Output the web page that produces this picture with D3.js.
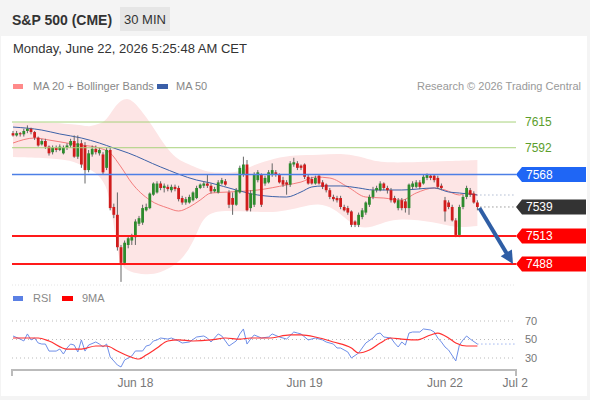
<!DOCTYPE html>
<html><head><meta charset="utf-8">
<script src="https://cdn.jsdelivr.net/npm/d3@7"></script>
<style>body{margin:0;background:#f3f3f3;} svg{display:block;font-family:"Liberation Sans",Arial,sans-serif;}</style>
</head><body><svg id="c" width="590" height="400"></svg>
<script>
// ---- DATA ----
const openP=[7605,7603,7605,7604,7607,7609,7606,7601,7595,7598,
7593,7588,7592,7590,7587,7592,7594,7598,7584,7596,
7594,7572,7586,7591,7587,7586,7574,7590,7539,7532,
7503,7489,7505,7509,7512,7524,7525,7536,7538,7550,
7552,7560,7556,7557,7554,7557,7556,7547,7543,7543,
7545,7547,7556,7558,7560,7558,7553,7552,7560,7562,
7552,7547,7541,7552,7568,7577,7538,7541,7563,7568,
7560,7561,7568,7570,7568,7563,7561,7559,7577,7578,
7576,7577,7566,7564,7560,7567,7561,7559,7554,7548,
7547,7547,7539,7538,7535,7526,7523,7530,7534,7541,
7548,7554,7554,7560,7556,7554,7547,7538,7545,7544,
7538,7557,7557,7561,7560,7565,7567,7567,7565,7558,
7545,7543,7539,7527,7514,7539,7548,7554,7551,7543];
const highP=[7607,7607,7606,7609,7612,7610,7607,7602,7600,7600,
7594,7594,7594,7595,7594,7596,7600,7603,7603,7599,
7597,7590,7594,7594,7592,7588,7592,7592,7542,7552,
7505,7509,7513,7515,7528,7531,7541,7542,7552,7561,
7562,7562,7560,7559,7559,7559,7558,7549,7548,7550,
7553,7558,7560,7562,7568,7560,7557,7563,7565,7564,
7554,7552,7556,7576,7584,7581,7554,7570,7572,7569,
7567,7572,7578,7572,7569,7566,7563,7580,7583,7580,
7577,7578,7568,7566,7567,7568,7563,7560,7556,7550,
7549,7549,7541,7540,7536,7527,7534,7538,7544,7550,
7557,7558,7562,7561,7558,7556,7549,7547,7547,7546,
7560,7562,7563,7563,7568,7569,7568,7568,7567,7560,
7548,7545,7541,7529,7541,7550,7558,7556,7553,7545];
const lowP=[7602,7602,7602,7602,7605,7604,7599,7593,7594,7591,
7585,7586,7588,7589,7586,7590,7592,7583,7582,7574,
7560,7570,7584,7586,7585,7568,7572,7536,7529,7500,
7472,7487,7502,7505,7505,7522,7523,7535,7537,7549,
7551,7554,7552,7553,7552,7553,7544,7541,7541,7542,
7544,7546,7555,7556,7556,7551,7552,7551,7559,7558,
7538,7532,7540,7551,7566,7535,7535,7539,7561,7539,
7558,7560,7566,7566,7560,7557,7550,7557,7575,7572,
7572,7564,7559,7559,7559,7559,7555,7552,7546,7544,
7543,7537,7535,7532,7521,7521,7521,7528,7532,7539,
7546,7552,7553,7554,7551,7543,7542,7536,7536,7534,
7532,7555,7556,7555,7559,7563,7563,7561,7555,7554,
7526,7537,7526,7512,7512,7537,7546,7548,7542,7536];
const closeP=[7603,7605,7604,7607,7609,7606,7601,7594,7598,7593,
7587,7592,7590,7593,7592,7594,7598,7584,7596,7577,
7572,7587,7591,7588,7590,7570,7590,7538,7532,7503,
7489,7507,7511,7512,7526,7529,7538,7539,7551,7560,
7560,7556,7558,7555,7557,7555,7546,7543,7546,7548,
7552,7556,7559,7560,7558,7553,7555,7561,7563,7559,
7541,7541,7554,7574,7577,7536,7551,7568,7570,7541,
7565,7570,7572,7568,7561,7559,7559,7578,7579,7574,
7574,7566,7560,7560,7565,7560,7557,7554,7548,7546,
7545,7539,7536,7534,7523,7523,7532,7536,7543,7548,
7554,7556,7560,7556,7554,7545,7543,7545,7538,7538,
7559,7560,7561,7557,7566,7568,7565,7563,7557,7556,
7535,7539,7527,7514,7539,7548,7556,7550,7543,7539];

const ma50Idx=[0,8,13,19,24,28,32,41,51,55,62,68,76,80,83,86,91,96,100,108,117,121,124,129];
const ma50Val=[7610.5,7607.8,7604.3,7600.7,7596.2,7591.7,7587.3,7574.8,7563.1,7560.4,7554.2,7549.7,7547.9,7552.4,7556.9,7557.8,7557.8,7556,7554.2,7554.2,7556,7552.4,7551.5,7549.7];
const ma20Idx=[0,6,10,15,19,24,27,30,33,38,43,46,49,52,55,60,68,76,80,84,88,93,98,103,108,112,117,120,124,126,129];
const ma20Val=[7596.2,7600.7,7598.9,7596.2,7594.4,7591.7,7587.3,7574.8,7560.4,7545.2,7538.1,7535.4,7539,7545.2,7551.5,7552.4,7554.2,7558.7,7561.3,7565.8,7564.9,7556.9,7547.9,7547,7545.2,7551.5,7556,7554.2,7549.7,7551.5,7549.7];
const bbUpIdx=[0,10,19,21,24,26,28,30,32,34,37,40,43,46,48,51,54,58,63,66,73,78,85,92,98,102,113,121,129];
const bbUpVal=[7614,7615,7612.3,7610.5,7613.2,7616.8,7627.5,7634.7,7636.5,7632,7619.5,7605.2,7590,7581,7578.3,7573.9,7570.3,7569.4,7570.3,7575.6,7582.8,7585.5,7585.5,7587.3,7582.8,7578.3,7579.2,7580.1,7581];
const bbLoIdx=[0,10,16,20,23,26,27,28,29,30,32,37,41,45,48,51,53,58,63,69,74,80,85,89,93,96,100,103,108,117,123,129];
const bbLoVal=[7583.7,7582.8,7581,7574.8,7570.3,7558.7,7541,7523,7500,7487,7481,7478,7480,7487,7496,7514,7532,7536,7535,7534.5,7534.5,7539,7542.6,7538,7527,7520,7521,7525.6,7529,7525.6,7520,7522];

const rsiIdx=[0,2,3,4,5,6,7,8,9,10,12,13,14,15,16,17,18,19,20,21,23,24,25,26,27,28,29,30,31,32,33,34,36,37,38,39,40,41,43,44,46,47,49,51,53,54,55,57,58,60,62,63,64,65,66,67,69,71,72,74,76,78,79,80,82,84,86,87,89,90,91,93,94,96,97,98,100,101,102,103,105,106,107,108,109,110,111,113,114,116,117,118,119,120,121,123,124,125,126,127,129];
const rsiVal=[53.8,50.5,48.4,56,49.5,51.6,46.2,45.1,45.1,37.5,37.5,39.7,34.3,40.8,45.1,44,36.5,49.5,37.5,44,47.3,45.1,41.9,45.1,31.1,26.8,22.4,20.3,27.8,30,32.2,37.6,37.6,43,44,48.4,49.5,51.6,50.5,51.6,48.4,46.2,47.3,52.7,53.8,51.6,47.3,56,53.8,43,48.4,56,61.4,45.1,50.5,54.9,51.6,52.7,56,52.7,50.5,58.1,57,56,49.5,51.6,49.5,47.3,45.1,40.8,40.8,36.5,30,35.4,40.8,46.2,51.6,56,57,52.7,51.6,46.2,41.9,47.3,44,57,58.1,58.1,61.4,60.3,58.1,51.6,47.3,41.9,38.6,26.8,44,49.5,53.8,50.5,45.1];
const ma9Idx=[0,7,10,15,19,23,26,29,32,35,37,40,43,46,50,55,59,63,66,71,77,80,84,89,94,96,99,102,105,108,112,116,118,121,123,126,129];
const ma9Val=[51.6,51.6,48.4,39.7,39.7,43,43,37.6,32.2,28.9,33.2,40.8,48.4,49.5,48.4,49.5,51.6,50.5,51.6,51.6,54.9,54.9,52.7,47.3,40.8,35.4,38.6,46.2,51.6,50.5,49.5,54.9,57,51.6,46.2,43,43];

const resistances=[7615,7592];
const pivot=[7568];
const supports=[7513,7488];
const rsiLevels=[70,50,30];
const tickIdx=[34,81,120,139.5];
const tickLabels=["Jun 18","Jun 19","Jun 22","Jul 2"];

// ---- DRAW ----
const svg=d3.select("#c");
svg.append("rect").attr("width",590).attr("height",400).attr("fill","#f4f4f4");
svg.append("rect").attr("x",1).attr("y",36).attr("width",586).attr("height",360).attr("fill","#fff");

// header
svg.append("text").attr("x",12).attr("y",25).attr("font-size",14).attr("font-weight","bold").attr("fill","#333").text("S&P 500 (CME)");
svg.append("rect").attr("x",120).attr("y",7).attr("width",50).attr("height",24).attr("fill","#e6e6e6");
svg.append("text").attr("x",145).attr("y",24).attr("text-anchor","middle").attr("font-size",13).attr("fill","#333").text("30 MIN");
svg.append("text").attr("x",13).attr("y",53).attr("font-size",13).attr("fill","#333").text("Monday, June 22, 2026 5:25:48 AM CET");

// legend
svg.append("rect").attr("x",13).attr("y",84).attr("width",10).attr("height",5).attr("fill","#ff8a8a");
svg.append("text").attr("x",33).attr("y",90).attr("font-size",11).attr("fill","#888").text("MA 20 + Bollinger Bands");
svg.append("rect").attr("x",157).attr("y",84).attr("width",11).attr("height",5).attr("fill","#3a5fa8");
svg.append("text").attr("x",176).attr("y",90).attr("font-size",11).attr("fill","#888").text("MA 50");
svg.append("text").attr("x",581).attr("y",90).attr("text-anchor","end").attr("font-size",11).attr("fill","#999").text("Research © 2026 Trading Central");

const x=d3.scaleLinear().domain([0,129]).range([13,477.4]);
const y=d3.scaleLinear().domain([7469.2,7634.7]).range([285,100]);
const yr=d3.scaleLinear().domain([30,70]).range([358,321]);
const X0=12, X1=516;

// bollinger band
const up=bbUpIdx.map((d,i)=>[x(d),y(bbUpVal[i])]);
const lo=bbLoIdx.map((d,i)=>[x(d),y(bbLoVal[i])]).reverse();
const lb=d3.line().curve(d3.curveBasis);
svg.append("path").attr("d",lb(up)+"L"+lb(lo).slice(1)+"Z").attr("fill","#fde5e5");

// panel separator
svg.append("line").attr("x1",X0).attr("x2",X1).attr("y1",285).attr("y2",285).attr("stroke","#e4e4e4").attr("stroke-dasharray","1,2");

// MA lines
const lm=d3.line().curve(d3.curveMonotoneX);
svg.append("path").attr("d",lm(ma20Idx.map((d,i)=>[x(d),y(ma20Val[i])]))).attr("fill","none").attr("stroke","#f47c7c").attr("stroke-width",1);
svg.append("path").attr("d",lm(ma50Idx.map((d,i)=>[x(d),y(ma50Val[i])]))).attr("fill","none").attr("stroke","#3d62a8").attr("stroke-width",1);

// candles
const bars=d3.range(closeP.length);
const g=svg.append("g");
g.selectAll(".w").data(bars).join("line")
 .attr("x1",i=>x(i)).attr("x2",i=>x(i)).attr("y1",i=>y(highP[i])).attr("y2",i=>y(lowP[i]))
 .attr("stroke","#666").attr("stroke-width",1);
g.selectAll(".b").data(bars).join("rect")
 .attr("x",i=>x(i)-1.4).attr("width",2.8)
 .attr("y",i=>y(Math.max(openP[i],closeP[i])))
 .attr("height",i=>Math.max(1,Math.abs(y(openP[i])-y(closeP[i]))))
 .attr("fill",i=>closeP[i]>=openP[i]?"#2e8b2e":"#d01c1c");

// last price dotted lines
const last=closeP.length-1;
svg.append("line").attr("x1",x(last)+3).attr("x2",X1).attr("y1",y(closeP[last])).attr("y2",y(closeP[last])).attr("stroke","#666").attr("stroke-dasharray","1,3");
svg.append("line").attr("x1",x(last)+3).attr("x2",X1).attr("y1",y(ma50Val[ma50Val.length-1])).attr("y2",y(ma50Val[ma50Val.length-1])).attr("stroke","#8899bb").attr("stroke-dasharray","1,3");

// level lines
resistances.forEach(v=>{
  svg.append("line").attr("x1",X0).attr("x2",X1).attr("y1",y(v)).attr("y2",y(v)).attr("stroke","#a8d27c").attr("stroke-width",1);
  svg.append("text").attr("x",525).attr("y",y(v)).attr("dy","0.36em").attr("font-size",12).attr("fill","#5c9e2c").text(v);
});
function tag(v,fill){
  const cy=y(v);
  svg.append("path").attr("d",`M${X1},${cy}L${X1+6},${cy-7.5}L586,${cy-7.5}L586,${cy+7.5}L${X1+6},${cy+7.5}Z`).attr("fill",fill);
  svg.append("text").attr("x",526).attr("y",cy).attr("dy","0.36em").attr("font-size",12).attr("fill","#fff").text(v);
}
pivot.forEach(v=>{
  svg.append("line").attr("x1",X0).attr("x2",X1).attr("y1",y(v)).attr("y2",y(v)).attr("stroke","#4d7fe6").attr("stroke-width",1.5);
  tag(v,"#1f66f5");
});
supports.forEach(v=>{
  svg.append("line").attr("x1",X0).attr("x2",X1).attr("y1",y(v)).attr("y2",y(v)).attr("stroke","#ff1a1a").attr("stroke-width",2);
  tag(v,"#ff0000");
});
tag(closeP[last],"#333");

// arrow
{
  const sx=x(last)+2, sy=y(closeP[last])+1;
  const tx=513, ty=y(supports[1]);
  const dx=tx-sx, dy=ty-sy, L=Math.hypot(dx,dy), ux=dx/L, uy=dy/L;
  const bx=tx-ux*13, by=ty-uy*13, px=-uy*6.5, py=ux*6.5;
  svg.append("line").attr("x1",sx).attr("y1",sy).attr("x2",bx+ux*2).attr("y2",by+uy*2).attr("stroke","#2f5ea5").attr("stroke-width",4);
  svg.append("path").attr("d",`M${tx},${ty}L${bx+px},${by+py}L${bx-px},${by-py}Z`).attr("fill","#2f5ea5");
}

// RSI legend
svg.append("rect").attr("x",13).attr("y",296).attr("width",10).attr("height",5).attr("fill","#5b80e4");
svg.append("text").attr("x",33).attr("y",302).attr("font-size",11).attr("fill","#888").text("RSI");
svg.append("rect").attr("x",62).attr("y",296).attr("width",11).attr("height",5).attr("fill","#ff0000");
svg.append("text").attr("x",82).attr("y",302).attr("font-size",11).attr("fill","#888").text("9MA");

// RSI grid
rsiLevels.forEach(v=>{
  svg.append("line").attr("x1",X0).attr("x2",X1).attr("y1",yr(v)).attr("y2",yr(v)).attr("stroke","#bbb").attr("stroke-dasharray","1,3");
  svg.append("text").attr("x",525).attr("y",yr(v)).attr("dy","0.36em").attr("font-size",11).attr("fill","#777").text(v);
});
const ll=d3.line();
svg.append("path").attr("d",ll(rsiIdx.map((d,i)=>[x(d),yr(rsiVal[i])]))).attr("fill","none").attr("stroke","#6f8fe8").attr("stroke-width",1);
svg.append("path").attr("d",lm(ma9Idx.map((d,i)=>[x(d),yr(ma9Val[i])]))).attr("fill","none").attr("stroke","#ff3030").attr("stroke-width",1.2);
svg.append("line").attr("x1",x(last)).attr("x2",X1).attr("y1",yr(rsiVal[rsiVal.length-1])).attr("y2",yr(rsiVal[rsiVal.length-1])).attr("stroke","#6f8fe8").attr("stroke-dasharray","1,3");

// x axis
svg.append("path").attr("d",`M${X0},376V370H${X1}V376`).attr("fill","none").attr("stroke","#bbb").attr("stroke-width",2);
tickIdx.forEach((d,i)=>{
  svg.append("text").attr("x",x(d)).attr("y",387).attr("text-anchor","middle").attr("font-size",12).attr("fill","#777").text(tickLabels[i]);
});
</script></body></html>
